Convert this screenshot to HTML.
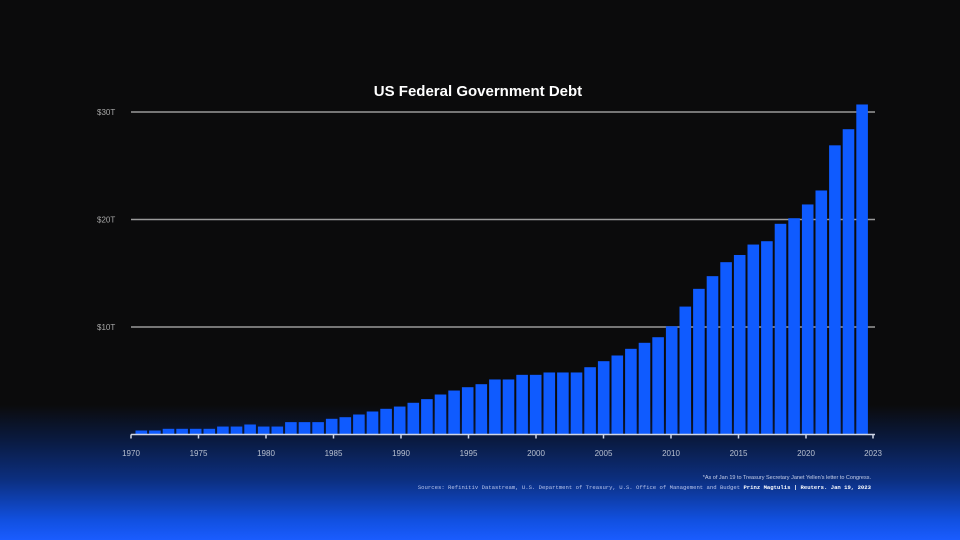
<!DOCTYPE html>
<html><head><meta charset="utf-8"><style>
html,body{margin:0;padding:0}
body{width:960px;height:540px;overflow:hidden;background:#0b0b0c;font-family:"Liberation Sans",sans-serif;position:relative}
#bg{position:absolute;left:0;top:0;width:960px;height:540px;background:linear-gradient(to bottom,#0b0b0c 0px,#0b0b0c 405px,#0a1a40 440px,#0c2f80 480px,#1150e0 520px,#1a5cff 540px)}
svg{position:absolute;left:0;top:0}
</style></head><body>
<div id="bg"></div>
<svg id="chart" width="960" height="540"></svg>
<script>
const years=[1970,1971,1972,1973,1974,1975,1976,1977,1978,1979,1980,1981,1982,1983,1984,1985,1986,1987,1988,1989,1990,1991,1992,1993,1994,1995,1996,1997,1998,1999,2000,2001,2002,2003,2004,2005,2006,2007,2008,2009,2010,2011,2012,2013,2014,2015,2016,2017,2018,2019,2020,2021,2022,2023];
const debt=[0.37,0.37,0.53,0.53,0.53,0.53,0.74,0.74,0.93,0.74,0.74,1.15,1.15,1.15,1.46,1.61,1.86,2.14,2.39,2.6,2.95,3.29,3.72,4.09,4.4,4.68,5.12,5.12,5.55,5.55,5.77,5.77,5.77,6.26,6.82,7.35,7.97,8.53,9.05,10.07,11.9,13.55,14.73,16.03,16.7,17.67,17.98,19.6,20.12,21.4,22.7,26.9,28.4,30.7];
const yTicks=[10,20,30];
const yTickLabels=["$10T","$20T","$30T"];
const xTicks=[1970,1975,1980,1985,1990,1995,2000,2005,2010,2015,2020,2023];
const NS="http://www.w3.org/2000/svg";
const svg=document.getElementById('chart');
const base=434.5, pxPerT=10.75;
const y=v=>base-v*pxPerT;
const tickX=yr=>yr===2023?873:131+(yr-1970)*13.5;
const band=13.6, bx=i=>135.5+i*band;
function mk(t,a){const e=document.createElementNS(NS,t);for(const k in a)e.setAttribute(k,a[k]);svg.appendChild(e);return e;}
yTicks.forEach((v,i)=>{
 const g=mk('line',{x1:131,x2:875,y1:y(v),y2:y(v),stroke:'#9a9a9a','stroke-width':1.5});
 
 
 const t=mk('text',{x:97,y:y(v)+3,fill:'#a8a8a8','font-size':8});
 t.textContent=yTickLabels[i];
 
 
});
debt.forEach((v,i)=>{
 const r=mk('rect',{x:bx(i),y:y(v),width:11.6,height:v*pxPerT,fill:'#0f5bff'});
 
 
});
const ax=mk('line',{x1:131,x2:875,y1:base,y2:base,stroke:'#cfd6e6','stroke-width':1.5});


xTicks.forEach(yr=>{
 const l=mk('line',{x1:tickX(yr),x2:tickX(yr),y1:base,y2:base+4,stroke:'#cfd6e6','stroke-width':1.5});
 
 
 const t=mk('text',{x:tickX(yr),y:456,fill:'#b8c0d0','font-size':8,'text-anchor':'middle'});
 t.textContent=yr;
 
 
});
const title=mk('text',{x:478,y:96,fill:'#ffffff','font-size':15,'font-weight':'bold','text-anchor':'middle'});
title.textContent='US Federal Government Debt';


const note=mk('text',{x:871,y:479,fill:'#c8d0e8','font-size':5.5,'text-anchor':'end'});
note.textContent="*As of Jan 19 to Treasury Secretary Janet Yellen's letter to Congress.";


const src=mk('text',{x:871,y:489,fill:'#b8c4e8','font-size':5.6,'text-anchor':'end','font-family':'Liberation Mono, monospace'});
src.innerHTML='Sources: Refinitiv Datastream, U.S. Department of Treasury, U.S. Office of Management and Budget  <tspan font-weight="bold" fill="#ffffff">Prinz Magtulis | Reuters. Jan 19, 2023</tspan>';


</script>
</body></html>
